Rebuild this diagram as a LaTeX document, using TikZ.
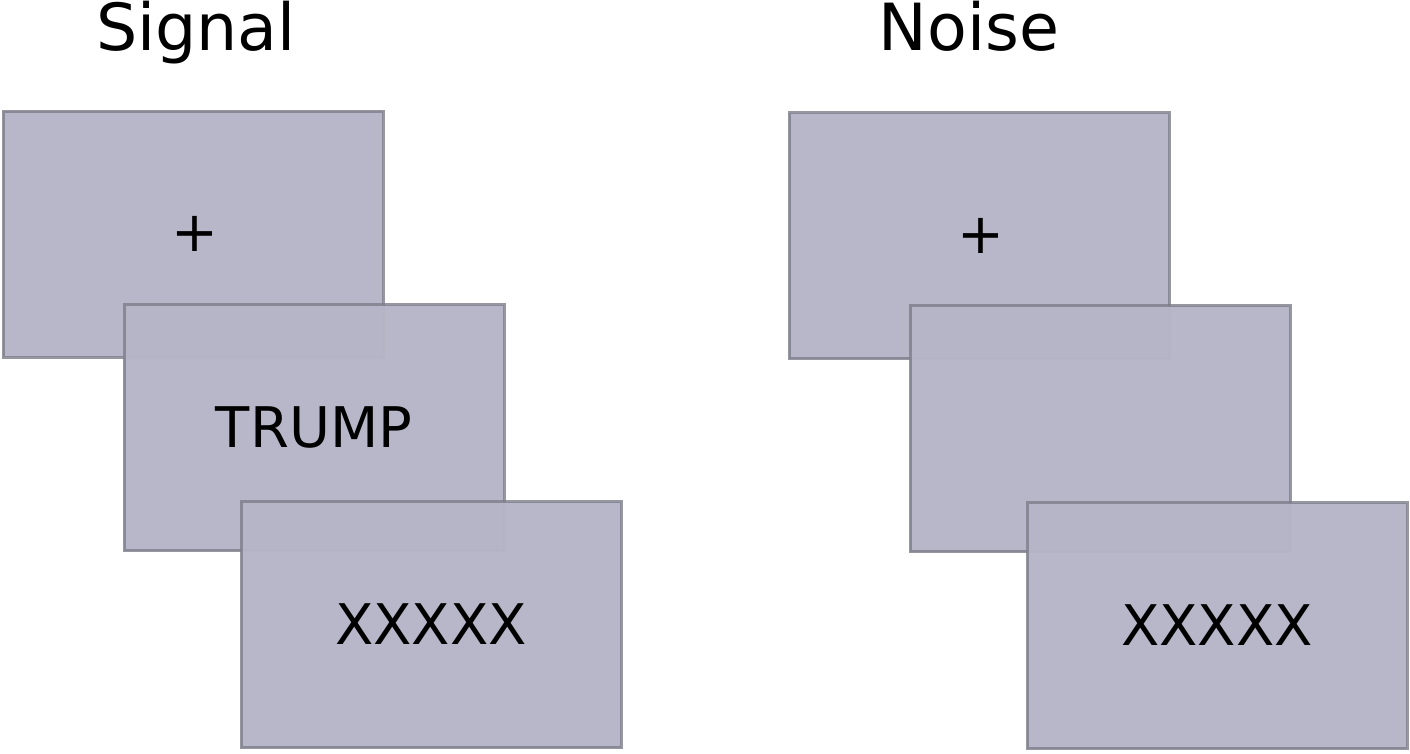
\documentclass[tikz,border=0pt]{standalone}
\usepackage{fontspec}
\setmainfont{DejaVu Sans}
\definecolor{screenFill}{RGB}{182,181,199}
\definecolor{screenEdge}{RGB}{125,125,138}

\begin{document}
\begin{tikzpicture}[x=1pt,y=-1pt,
  screen/.style={draw=screenEdge,draw opacity=0.8,line width=3pt,fill=screenFill,fill opacity=0.97,text opacity=1,
    minimum width=380pt,minimum height=246pt,inner sep=0pt,font=\fontsize{56}{67}\selectfont},
  title/.style={anchor=base,font=\fontsize{65}{78}\selectfont}]
\useasboundingbox (0,0) rectangle (1410,753);
% signal trials
\node[title] (sigtitle) at (196,50) {Signal};
\node[screen] (sigfix) at (193,234) {\hspace{3pt}+};
\node[screen] (sigword) at (314,427.5) {TRUMP};
\node[screen] (sigmask) at (431,624.5) {XXXXX};
% noise trials
\node[title] (noisetitle) at (969,50) {Noise};
\node[screen] (noisefix) at (979,235.5) {\hspace{3pt}+};
\node[screen] (noiseblank) at (1100,428.5) {};
\node[screen] (noisemask) at (1217,625.5) {XXXXX};
\end{tikzpicture}
\end{document}
